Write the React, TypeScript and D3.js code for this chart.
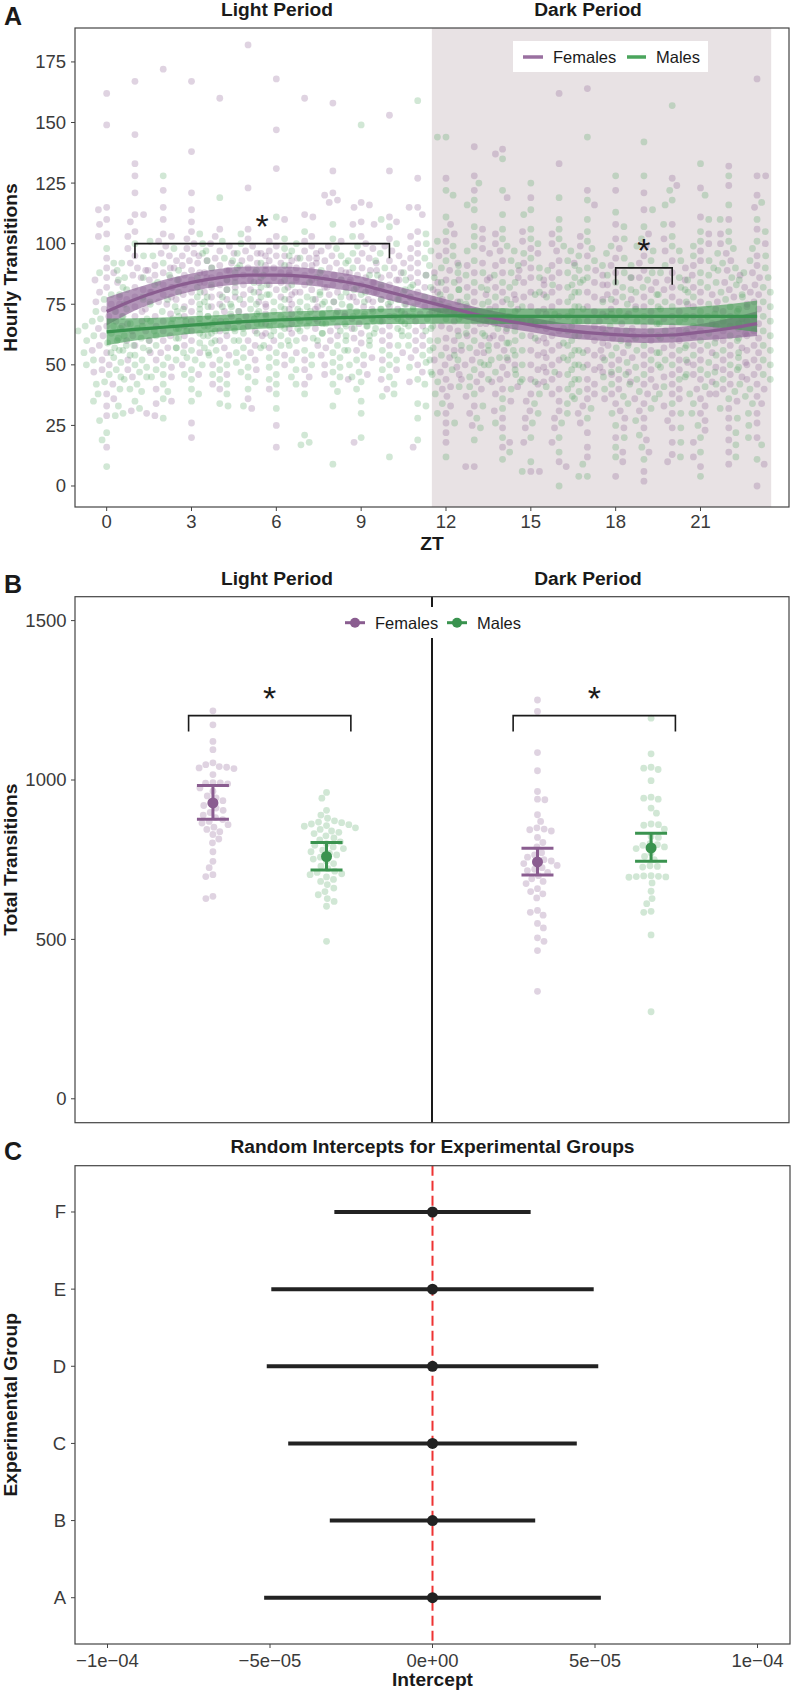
import React from "react";
import * as d3 from "d3";

const W = 792;
const H = 1694;
const FONT = "'Liberation Sans', Arial, Helvetica, sans-serif";

// ---------------- Panel A data ----------------
const HOURS = [0, 1, 2, 3, 4, 5, 6, 7, 8, 9, 10, 11, 12, 13, 14, 15, 16, 17, 18, 19, 20, 21, 22, 23];
const hourlyFemales = [
  "162 149 115 114 110 108 104 103 94 90 88 86 85 82 80 78 76 75 73 72 70 68 67 66 65 64 62 60 58 56 55 52 50 48 47 42 38 36 33 29 16",
  "167 145 133 128 121 112 112 109 105 103 98 95 92 90 89 87 86 85 84 82 81 80 78 77 75 74 72 70 68 66 64 62 60 58 55 52 48 45 31 30 29",
  "172 122 115 110 104 103 101 99 96 95 93 91 90 89 88 87 86 85 83 82 80 79 78 76 75 73 71 70 68 66 64 62 60 57 55 52 49 45 40 35 34",
  "167 138 121 114 109 105 102 100 98 96 95 93 92 91 90 89 88 87 86 85 84 83 82 80 79 77 76 74 72 70 68 66 64 62 60 58 55 50 46 26 20",
  "160 106 103 100 99 97 96 95 94 93 92 91 90 89 88 87 86 85 84 83 82 81 80 79 78 77 75 74 72 70 68 66 64 62 60 57 54 50 46 42 40",
  "182 123 106 102 99 97 96 95 94 93 92 91 90 89 88 87 86 85 84 83 82 81 80 79 78 76 75 74 72 70 68 66 64 62 60 58 55 52 48 36 32",
  "168 147 131 110 103 101 99 97 96 95 94 93 92 91 90 89 88 87 86 85 84 83 82 81 80 78 77 75 73 71 69 67 65 63 60 57 54 50 40 25 16",
  "160 112 111 103 101 99 97 96 95 94 93 92 91 90 89 88 87 86 85 84 83 82 81 80 79 77 75 73 71 69 67 65 63 61 58 55 52 48 45 42",
  "158 130 121 120 118 117 101 99 97 95 94 93 92 91 90 89 88 87 86 85 84 83 82 80 79 78 76 74 72 70 68 66 64 62 60 57 54 50 46 44",
  "117 116 115 109 108 103 100 98 96 94 93 92 90 89 88 87 86 85 84 83 82 81 80 78 77 76 74 73 71 69 67 65 63 61 59 56 53 50 46 18",
  "153 130 111 109 108 102 99 97 95 93 92 90 89 88 87 86 85 84 83 82 81 80 78 77 76 74 73 71 70 68 66 64 62 60 58 55 52 48 44 40",
  "127 115 115 112 105 103 100 98 96 94 92 90 88 87 86 85 84 82 81 80 78 77 76 75 74 72 71 70 68 66 64 62 60 58 56 53 50 47 43 16",
  "127 108 104 101 97 95 92 89 88 85 84 81 80 77 76 73 72 71 68 66 65 64 61 60 57 56 53 52 50 47 46 44 41 40 37 33 30 26 22 18",
  "140 128 122 106 102 98 96 92 91 88 86 85 82 80 79 76 74 73 70 68 67 64 62 61 58 56 55 52 50 49 46 44 43 40 37 33 30 25 8 8",
  "139 137 119 104 100 97 93 91 88 86 85 82 80 79 76 74 73 70 68 67 64 62 61 58 56 55 52 50 49 46 44 43 40 38 35 31 28 24 18 16",
  "119 105 101 98 96 92 90 89 86 84 83 80 78 77 74 72 71 68 66 65 62 60 59 56 54 53 50 48 47 44 42 41 38 35 31 28 24 18 6 6",
  "162 133 104 100 97 93 91 88 86 85 82 80 79 76 74 73 70 68 67 64 62 61 58 56 55 52 50 49 46 44 43 40 38 35 31 28 24 18 10 8",
  "164 122 116 103 99 95 92 89 87 84 83 80 78 77 74 72 71 68 66 65 62 60 59 56 54 53 50 48 47 44 42 40 38 36 33 30 26 22 16 12",
  "122 108 102 98 94 91 88 86 83 80 79 76 74 73 70 68 67 64 62 61 58 56 55 52 50 49 46 44 43 40 38 36 34 31 28 24 20 14 10 4",
  "121 114 104 99 95 92 89 86 84 81 78 77 74 72 71 68 66 65 62 60 59 56 54 53 50 48 47 44 42 41 38 36 34 31 28 24 19 14 6 2",
  "127 124 108 102 97 93 90 88 85 82 81 78 76 75 72 70 69 66 64 63 60 58 57 54 52 51 48 46 45 42 40 38 36 33 30 27 24 18 13 10",
  "123 111 104 100 97 93 91 87 85 82 80 79 76 74 73 70 68 67 64 62 61 58 56 55 52 50 49 46 44 43 40 38 36 33 30 27 23 18 12 8",
  "132 124 110 104 100 96 93 89 87 84 82 81 78 76 75 72 70 69 66 64 63 60 58 57 54 52 51 48 46 45 42 40 38 35 32 28 24 19 14 9",
  "168 128 128 120 115 106 100 95 91 88 86 83 80 79 76 74 73 70 68 67 64 62 61 58 56 55 52 50 49 46 44 42 40 37 34 30 26 20 9 0",
];
const hourlyMales = [
  "98 92 88 85 82 79 77 75 72 70 69 68 66 65 64 63 62 61 60 59 58 57 56 55 54 53 52 51 50 48 46 45 43 42 40 38 35 33 29 27 22 19 8",
  "100 95 92 89 86 84 81 79 77 75 73 72 70 68 67 66 65 64 62 61 60 58 57 56 55 54 52 50 49 47 45 44 42 40 39 35 32 30",
  "128 101 98 95 92 89 86 83 80 78 76 74 73 72 70 69 68 67 66 65 64 62 61 60 58 57 56 55 53 52 50 48 46 45 42 39 36 28",
  "104 100 96 93 90 87 85 83 80 78 77 75 74 72 71 70 69 68 67 66 65 64 63 62 61 60 59 57 56 55 53 52 50 48 46 44 40 38 35",
  "119 101 97 94 91 88 86 84 82 80 78 77 76 74 73 72 71 70 69 68 67 66 65 64 63 62 60 59 57 56 54 52 50 48 46 44 42 38 34 33",
  "104 100 96 93 90 87 85 83 81 79 78 77 75 74 73 72 71 70 69 68 67 66 65 64 63 62 60 58 57 55 53 51 49 47 45 43 40 33",
  "111 102 98 95 92 89 86 84 82 80 79 78 76 75 74 73 72 71 70 69 68 67 66 65 64 63 62 60 58 57 55 53 51 49 46 44 42 38 32",
  "105 100 97 94 91 88 85 83 81 80 78 77 76 75 74 73 72 71 70 69 68 67 66 65 64 63 61 60 58 56 54 52 50 48 45 42 38 21 18 17",
  "108 102 98 95 92 89 86 84 82 80 79 77 76 75 74 73 72 71 70 69 68 67 66 65 63 62 60 58 56 55 53 51 49 47 45 42 39 33 9",
  "149 103 99 96 93 90 87 85 83 81 79 78 77 76 75 74 73 72 71 70 69 68 67 66 65 64 62 60 58 56 54 52 50 47 45 43 40 35 30 20",
  "110 107 100 96 93 90 87 85 83 81 80 78 77 76 75 74 73 72 71 70 69 68 67 66 65 63 62 60 58 56 54 52 50 48 45 42 38 37 12",
  "159 104 100 97 94 91 88 86 84 82 80 79 78 77 76 75 74 73 72 71 70 69 68 66 65 64 62 60 58 56 54 52 49 47 44 42 34 33 28 19",
  "144 144 122 120 111 105 101 99 95 93 90 88 87 84 82 81 78 76 75 72 70 69 66 64 63 60 58 57 54 52 51 48 46 43 41 38 34 30 26 12",
  "125 118 116 114 107 103 99 97 93 91 88 87 84 82 81 78 76 75 72 70 69 67 66 63 62 60 57 56 54 51 50 48 45 44 41 38 33 28 24 19",
  "135 122 112 106 102 99 97 93 91 88 87 84 82 81 78 76 75 72 70 69 68 65 64 62 59 58 56 53 52 50 47 46 43 40 36 32 26 20 14 11",
  "125 114 112 106 102 100 96 94 90 89 86 84 83 80 78 77 74 72 71 68 66 65 62 60 59 56 54 53 50 48 47 44 41 38 34 30 26 20 10 6",
  "119 110 106 102 99 97 93 91 88 86 85 82 80 79 76 74 73 70 68 67 64 62 61 58 56 55 52 50 49 46 44 43 40 37 34 30 26 20 14 0",
  "144 118 110 105 101 98 95 93 90 89 86 84 83 80 78 77 74 72 71 68 66 65 62 60 59 56 54 53 50 48 47 44 42 39 36 32 28 9 4 4",
  "128 113 107 102 99 96 94 91 88 87 84 82 81 78 76 75 72 70 69 66 64 63 60 58 57 54 52 51 48 46 45 42 40 37 34 30 25 20 16 12",
  "142 128 114 107 102 99 97 93 91 88 86 85 82 80 79 76 74 73 70 68 67 64 62 61 58 56 55 52 50 49 46 44 42 39 36 32 27 21 16 11",
  "157 122 118 116 108 103 99 97 93 91 88 86 85 82 80 79 76 74 73 70 68 67 64 62 61 58 56 55 52 50 49 46 44 41 38 34 30 24 18 12",
  "133 120 110 105 101 99 95 93 90 88 87 84 82 81 78 76 75 72 70 69 66 64 63 60 58 57 54 52 51 48 46 45 41 38 34 30 25 20 14 4",
  "128 116 110 105 101 98 96 92 90 89 86 84 83 80 78 77 74 72 71 68 66 65 62 60 59 56 54 53 50 48 47 44 42 39 36 32 28 22 17 12",
  "117 110 105 101 98 95 93 90 88 86 85 82 80 79 76 74 73 70 68 67 64 62 61 58 56 55 52 50 49 46 44 42 40 37 34 30 25 20 17 11",
];
// smooth fits and ribbon half-widths
const fitFemales = [72, 77, 81, 84, 86, 87, 87, 86.5, 85, 83, 80, 77, 74, 71, 68.5, 66.5, 64.5, 63.3, 62.5, 62, 62.3, 63.5, 65, 67];
const bandFemales = [5.8, 4.6, 4, 3.7, 3.6, 3.6, 3.6, 3.6, 3.5, 3.4, 3.3, 3.2, 3.1, 3, 3, 3, 3, 3, 3, 3, 3.1, 3.4, 4.1, 5.1];
const fitMales = [63.6, 64.6, 65.5, 66.4, 67.2, 67.9, 68.5, 69, 69.4, 69.7, 70, 70.1, 70.2, 70.2, 70.1, 70, 70, 70, 70, 70, 70, 70, 70, 70];
const bandMales = [5.5, 4.6, 4, 3.6, 3.4, 3.3, 3.3, 3.2, 3.2, 3.2, 3.2, 3.2, 3.2, 3.2, 3.2, 3.2, 3.2, 3.2, 3.3, 3.4, 3.6, 4.1, 5, 6.5];
const xTicksA = [0, 3, 6, 9, 12, 15, 18, 21];
const yTicksA = [0, 25, 50, 75, 100, 125, 150, 175];
const darkPhase = [11.5, 23.5];
// significance brackets: [x1, x2, y, tipY, starX, starY]
const bracketsA = [
  [1, 10, 100, 94, 5.5, 110.5],
  [18, 20, 90, 83, 19, 100.5],
];

// ---------------- Panel B data ----------------
const totalsLightFemales = [1217, 1173, 1121, 1095, 1054, 1048, 1042, 1040, 1038, 1036, 1017, 992, 991, 990, 988, 975, 965, 950, 944, 935, 928, 920, 912, 905, 898, 890, 882, 876, 870, 865, 860, 852, 845, 838, 829, 815, 803, 775, 745, 725, 703, 697, 635, 628];
const totalsLightMales = [961, 943, 905, 890, 880, 872, 868, 866, 862, 860, 857, 855, 850, 845, 840, 836, 832, 825, 818, 812, 806, 800, 795, 790, 785, 780, 775, 770, 765, 758, 752, 745, 738, 730, 722, 714, 710, 706, 703, 696, 688, 682, 672, 661, 650, 640, 628, 619, 604, 494];
const totalsDarkFemales = [1251, 1215, 1086, 1029, 964, 940, 938, 891, 870, 850, 846, 844, 840, 820, 804, 790, 772, 765, 758, 750, 746, 742, 738, 732, 725, 720, 716, 710, 700, 690, 682, 675, 659, 650, 643, 630, 591, 585, 576, 550, 536, 505, 494, 465, 337];
const totalsDarkMales = [1194, 1082, 1040, 1037, 1033, 998, 946, 943, 940, 912, 896, 862, 860, 858, 846, 823, 820, 800, 797, 795, 790, 785, 771, 760, 750, 731, 729, 727, 700, 699, 698, 697, 696, 695, 677, 651, 628, 612, 588, 585, 514, 273];
const groupPosB = [0.825, 1.175, 1.825, 2.175];
const meansB = [928, 760, 743, 787];
const lowB = [877, 718, 702, 745];
const highB = [983, 804, 786, 833];
const yTicksB = [0, 500, 1000, 1500];
const bracketsB = [
  [0.75, 1.25, 1202, 1152, 1],
  [1.75, 2.25, 1202, 1152, 2],
];

// ---------------- Panel C data ----------------
const expGroups = ["A", "B", "C", "D", "E", "F"];
const interceptEst = [0, 0, 0, 0, 0, 0];
const interceptLow = [-5.18e-5, -3.16e-5, -4.44e-5, -5.1e-5, -4.96e-5, -3.02e-5];
const interceptHigh = [5.18e-5, 3.16e-5, 4.44e-5, 5.1e-5, 4.96e-5, 3.02e-5];
const xTicksC = [-1e-4, -5e-5, 0, 5e-5, 1e-4];
const xTickLabelsC = ["\u22121e\u221204", "\u22125e\u221205", "0e+00", "5e\u221205", "1e\u221204"];

// ---------------- colours ----------------
const FEM = "#8a5d90";
const MAL = "#3a934f";
const FEM_PT = "#8c6195";
const MAL_PT = "#3f9a4f";

const parse = (s: string) => s.trim().split(/\s+/).map(Number);

function swarm(ys: number[], r: number): number[] {
  const order = ys.map((_, i) => i).sort((a, b) => ys[a] - ys[b]);
  const placed: { x: number; y: number }[] = [];
  const out = new Array(ys.length).fill(0);
  const d = 2 * r;
  order.forEach((i, k) => {
    const y = ys[i];
    const iv: [number, number][] = [];
    for (const p of placed) {
      const dy = Math.abs(p.y - y);
      if (dy < d) {
        const dx = Math.sqrt(d * d - dy * dy);
        iv.push([p.x - dx, p.x + dx]);
      }
    }
    const cands = [0];
    iv.forEach(([a, b]) => cands.push(a, b));
    cands.sort((a, b) => Math.abs(a) - Math.abs(b) || (k % 2 ? a - b : b - a));
    let best = 0;
    for (const c of cands) {
      if (iv.every(([a, b]) => c <= a + 1e-6 || c >= b - 1e-6)) {
        best = c;
        break;
      }
    }
    out[i] = best;
    placed.push({ x: best, y });
  });
  return out;
}

const tickText = { fontFamily: FONT, fontSize: 18.5, fill: "#3a3a3a" } as const;
const titleText = { fontFamily: FONT, fontSize: 19.2, fontWeight: 700, fill: "#1a1a1a" } as const;

export default function App() {
  // ----- Panel A -----
  const A = { l: 75, r: 789, t: 28, b: 507 };
  const xA = d3.scaleLinear().domain([-1.12, 24.13]).range([A.l, A.r]);
  const yA = d3.scaleLinear().domain([-8.67, 189.0]).range([A.b, A.t]);

  const ptsF: { x: number; y: number }[] = [];
  const ptsM: { x: number; y: number }[] = [];
  HOURS.forEach((h, hi) => {
    const f = parse(hourlyFemales[hi]);
    const m = parse(hourlyMales[hi]);
    const ys = [...f, ...m].map((v) => yA(v));
    const offs = swarm(ys, 4.3);
    ys.forEach((y, i) => {
      const p = { x: xA(h) + offs[i], y };
      if (i < f.length) ptsF.push(p);
      else ptsM.push(p);
    });
  });

  const lineGen = (fit: number[]) =>
    d3
      .line<number>()
      .x((_, i) => xA(HOURS[i]))
      .y((d) => yA(d))
      .curve(d3.curveMonotoneX)(fit) || "";
  const areaGen = (fit: number[], band: number[]) =>
    d3
      .area<number>()
      .x((_, i) => xA(HOURS[i]))
      .y0((d, i) => yA(d - band[i]))
      .y1((d, i) => yA(d + band[i]))
      .curve(d3.curveMonotoneX)(fit) || "";

  // ----- Panel B -----
  const B = { l: 75, r: 789, t: 596.7, b: 1122.7 };
  const xB = d3.scaleLinear().domain([0.4, 2.6]).range([B.l, B.r]);
  const yB = d3.scaleLinear().domain([-75, 1575]).range([B.b, B.t]);
  const groupsB = [totalsLightFemales, totalsLightMales, totalsDarkFemales, totalsDarkMales];
  const ptsB = groupsB.map((vals, gi) => {
    const ys = vals.map((v) => yB(v));
    const offs = swarm(ys, 3.7);
    return ys.map((y, i) => ({ x: xB(groupPosB[gi]) + offs[i], y }));
  });

  // ----- Panel C -----
  const C = { l: 75, r: 790, t: 1165.7, b: 1644 };
  const xC = d3.scaleLinear().domain([-1.1e-4, 1.1e-4]).range([C.l, C.r]);
  const yC = d3.scalePoint<string>().domain(expGroups).range([C.b, C.t]).padding(0.6);

  const border = "#444";

  return (
    <svg
      width={W}
      height={H}
      style={{ position: "absolute", left: 0, top: 0, background: "#fff" }}
      xmlns="http://www.w3.org/2000/svg"
    >
      <rect x={0} y={0} width={W} height={H} fill="#fff" />

      {/* ================= PANEL A ================= */}
      <text x={4} y={25} fontFamily={FONT} fontSize={25} fontWeight={700} fill="#1a1a1a">A</text>
      <text x={277} y={16} textAnchor="middle" {...titleText}>Light Period</text>
      <text x={588} y={16} textAnchor="middle" {...titleText}>Dark Period</text>
      <defs>
        <clipPath id="clipA">
          <rect x={A.l} y={A.t} width={A.r - A.l} height={A.b - A.t} />
        </clipPath>
      </defs>
      <rect
        x={xA(darkPhase[0])}
        y={A.t}
        width={xA(darkPhase[1]) - xA(darkPhase[0])}
        height={A.b - A.t}
        fill="#e8e2e4"
      />
      <g clipPath="url(#clipA)">
        {ptsF.map((p, i) => (
          <circle key={"f" + i} cx={p.x} cy={p.y} r={3.4} fill={FEM_PT} fillOpacity={0.28} />
        ))}
        {ptsM.map((p, i) => (
          <circle key={"m" + i} cx={p.x} cy={p.y} r={3.4} fill={MAL_PT} fillOpacity={0.24} />
        ))}
      </g>
      <path d={areaGen(fitFemales, bandFemales)} fill={FEM_PT} fillOpacity={0.66} />
      <path d={areaGen(fitMales, bandMales)} fill={MAL_PT} fillOpacity={0.62} />
      <path d={lineGen(fitFemales)} fill="none" stroke={FEM} strokeWidth={3.2} />
      <path d={lineGen(fitMales)} fill="none" stroke={MAL} strokeWidth={3.2} />

      {bracketsA.map((b, i) => (
        <g key={"ba" + i}>
          <path
            d={`M${xA(b[0])},${yA(b[3])}V${yA(b[2])}H${xA(b[1])}V${yA(b[3])}`}
            fill="none"
            stroke="#1a1a1a"
            strokeWidth={1.6}
          />
          <text x={xA(b[4])} y={yA(b[5]) + 20} textAnchor="middle" fontFamily={FONT} fontSize={34} fill="#1a1a1a">*</text>
        </g>
      ))}

      {/* legend A */}
      <rect x={513} y={41} width={195} height={31} fill="#fff" />
      <line x1={523} x2={543} y1={57} y2={57} stroke="#9a70a0" strokeWidth={3.5} />
      <text x={553} y={63} fontFamily={FONT} fontSize={16.5} fill="#1a1a1a">Females</text>
      <line x1={627} x2={646} y1={57} y2={57} stroke="#4aa55c" strokeWidth={3.5} />
      <text x={656} y={63} fontFamily={FONT} fontSize={16.5} fill="#1a1a1a">Males</text>

      <rect x={A.l} y={A.t} width={A.r - A.l} height={A.b - A.t} fill="none" stroke={border} strokeWidth={1.2} />
      {yTicksA.map((t) => (
        <g key={"yA" + t}>
          <line x1={A.l - 4} x2={A.l} y1={yA(t)} y2={yA(t)} stroke={border} />
          <text x={66} y={yA(t)} dy="0.35em" textAnchor="end" {...tickText}>{t}</text>
        </g>
      ))}
      {xTicksA.map((t) => (
        <g key={"xA" + t}>
          <line x1={xA(t)} x2={xA(t)} y1={A.b} y2={A.b + 4} stroke={border} />
          <text x={xA(t)} y={528} textAnchor="middle" {...tickText}>{t}</text>
        </g>
      ))}
      <text x={432} y={550} textAnchor="middle" {...titleText}>ZT</text>
      <text transform={`translate(17,${(A.t + A.b) / 2}) rotate(-90)`} textAnchor="middle" {...titleText}>
        Hourly Transitions
      </text>

      {/* ================= PANEL B ================= */}
      <text x={4} y={593} fontFamily={FONT} fontSize={25} fontWeight={700} fill="#1a1a1a">B</text>
      <text x={277} y={585} textAnchor="middle" {...titleText}>Light Period</text>
      <text x={588} y={585} textAnchor="middle" {...titleText}>Dark Period</text>

      <line x1={xB(1.5)} x2={xB(1.5)} y1={B.t} y2={B.b} stroke="#1a1a1a" strokeWidth={2} />

      {ptsB.map((pts, gi) =>
        pts.map((p, i) => (
          <circle
            key={"b" + gi + "_" + i}
            cx={p.x}
            cy={p.y}
            r={3.4}
            fill={gi % 2 === 0 ? FEM_PT : MAL_PT}
            fillOpacity={gi % 2 === 0 ? 0.28 : 0.24}
          />
        ))
      )}
      {meansB.map((m, gi) => {
        const cx = xB(groupPosB[gi]);
        const col = gi % 2 === 0 ? FEM : MAL;
        return (
          <g key={"mb" + gi}>
            <line x1={cx} x2={cx} y1={yB(lowB[gi])} y2={yB(highB[gi])} stroke={col} strokeWidth={3} />
            <line x1={cx - 16} x2={cx + 16} y1={yB(lowB[gi])} y2={yB(lowB[gi])} stroke={col} strokeWidth={3} />
            <line x1={cx - 16} x2={cx + 16} y1={yB(highB[gi])} y2={yB(highB[gi])} stroke={col} strokeWidth={3} />
            <circle cx={cx} cy={yB(m)} r={5.5} fill={col} />
          </g>
        );
      })}
      {bracketsB.map((b, i) => (
        <g key={"bb" + i}>
          <path
            d={`M${xB(b[0])},${yB(b[3])}V${yB(b[2])}H${xB(b[1])}V${yB(b[3])}`}
            fill="none"
            stroke="#1a1a1a"
            strokeWidth={1.6}
          />
          <text x={xB(b[4])} y={yB(b[2]) - 6} textAnchor="middle" fontFamily={FONT} fontSize={34} fill="#1a1a1a">*</text>
        </g>
      ))}

      {/* legend B */}
      <rect x={336} y={607} width={192} height={31} fill="#fff" />
      <line x1={345} x2={365} y1={622.7} y2={622.7} stroke={FEM} strokeWidth={3} />
      <circle cx={355} cy={622.7} r={5} fill={FEM} />
      <text x={375} y={628.7} fontFamily={FONT} fontSize={16.5} fill="#1a1a1a">Females</text>
      <line x1={447} x2={467} y1={622.7} y2={622.7} stroke={MAL} strokeWidth={3} />
      <circle cx={457} cy={622.7} r={5} fill={MAL} />
      <text x={477} y={628.7} fontFamily={FONT} fontSize={16.5} fill="#1a1a1a">Males</text>

      <rect x={B.l} y={B.t} width={B.r - B.l} height={B.b - B.t} fill="none" stroke={border} strokeWidth={1.2} />
      {yTicksB.map((t) => (
        <g key={"yB" + t}>
          <line x1={B.l - 4} x2={B.l} y1={yB(t)} y2={yB(t)} stroke={border} />
          <text x={66.5} y={yB(t)} dy="0.35em" textAnchor="end" {...tickText}>{t}</text>
        </g>
      ))}
      <text transform={`translate(17,${(B.t + B.b) / 2}) rotate(-90)`} textAnchor="middle" {...titleText}>
        Total Transitions
      </text>

      {/* ================= PANEL C ================= */}
      <text x={4} y={1160} fontFamily={FONT} fontSize={25} fontWeight={700} fill="#1a1a1a">C</text>
      <text x={(C.l + C.r) / 2} y={1153} textAnchor="middle" {...titleText}>
        Random Intercepts for Experimental Groups
      </text>
      {expGroups.map((g, i) => (
        <line
          key={"ci" + g}
          x1={xC(interceptLow[i])}
          x2={xC(interceptHigh[i])}
          y1={yC(g)}
          y2={yC(g)}
          stroke="#222"
          strokeWidth={4}
        />
      ))}
      <line x1={xC(0)} x2={xC(0)} y1={C.t} y2={C.b} stroke="#ee3333" strokeWidth={2} strokeDasharray="10 5" />
      {expGroups.map((g, i) => (
        <circle key={"pe" + g} cx={xC(interceptEst[i])} cy={yC(g)} r={5.5} fill="#222" />
      ))}
      <rect x={C.l} y={C.t} width={C.r - C.l} height={C.b - C.t} fill="none" stroke={border} strokeWidth={1.2} />
      {expGroups.map((g) => (
        <g key={"yC" + g}>
          <line x1={C.l - 4} x2={C.l} y1={yC(g)} y2={yC(g)} stroke={border} />
          <text x={66} y={yC(g)} dy="0.35em" textAnchor="end" {...tickText}>{g}</text>
        </g>
      ))}
      {xTicksC.map((t, i) => (
        <g key={"xC" + i}>
          <line x1={xC(t)} x2={xC(t)} y1={C.b} y2={C.b + 4} stroke={border} />
          <text x={xC(t)} y={1667} textAnchor="middle" {...tickText}>{xTickLabelsC[i]}</text>
        </g>
      ))}
      <text x={xC(0)} y={1686} textAnchor="middle" {...titleText}>Intercept</text>
      <text transform={`translate(17,${(C.t + C.b) / 2}) rotate(-90)`} textAnchor="middle" {...titleText}>
        Experimental Group
      </text>
    </svg>
  );
}
